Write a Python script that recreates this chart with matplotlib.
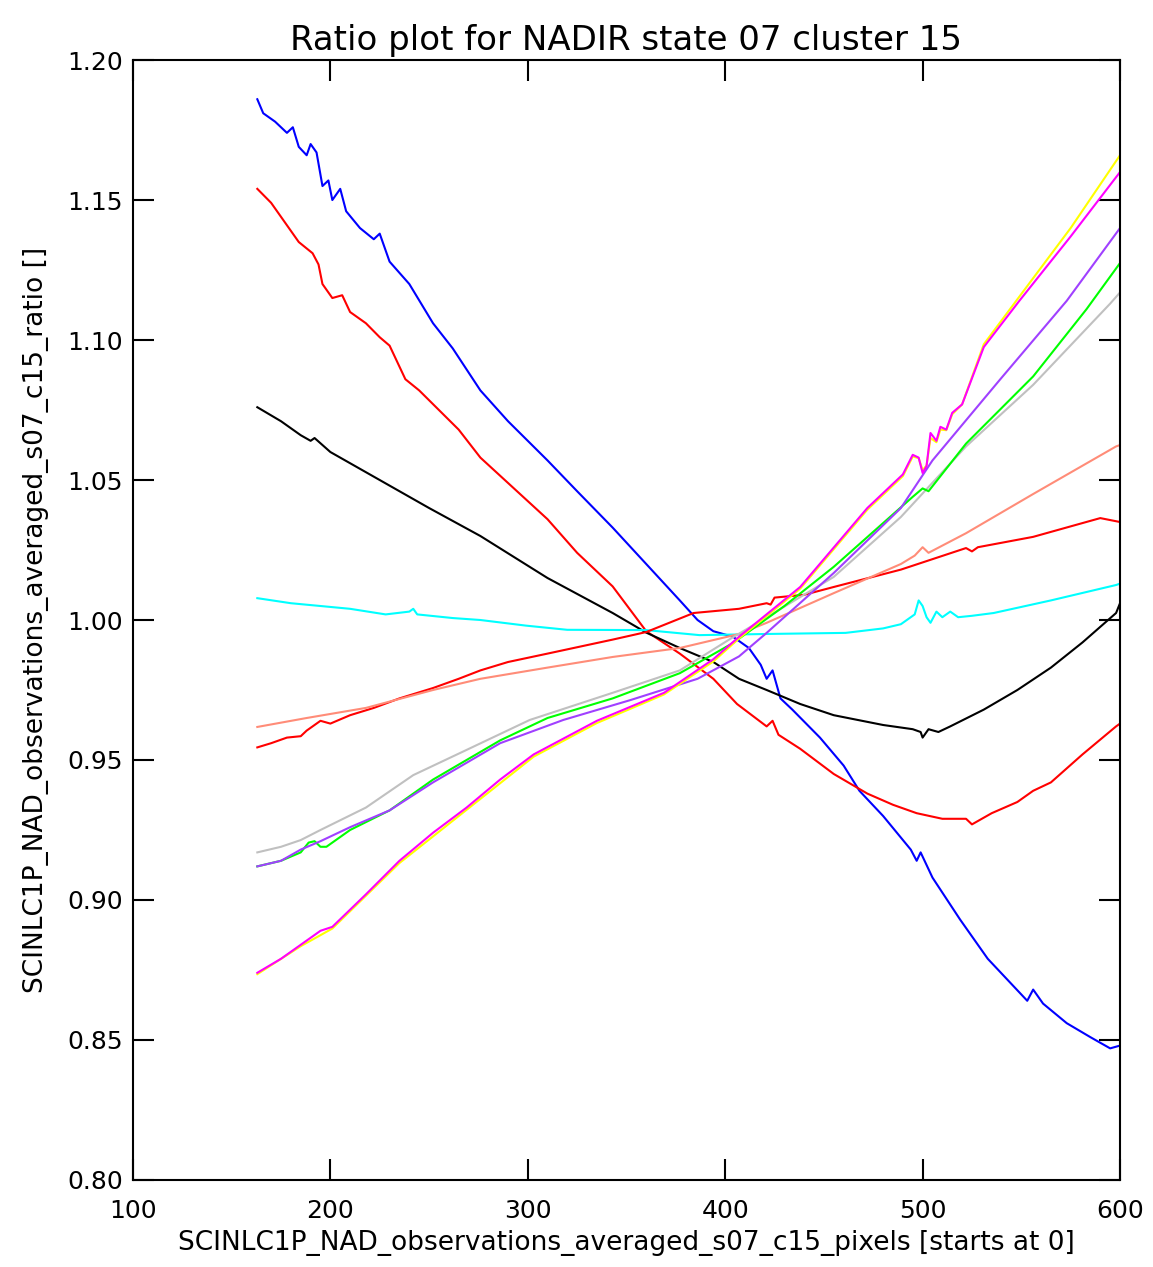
import matplotlib
matplotlib.use("Agg")
import matplotlib.pyplot as plt

# ratio curves (pixel index vs ratio)
blue_x = [163,166,172,178,181,184,188,190,193,196,199,201,205,208,215,222,225,230,240,252,262,276,290,310,325,343,360,377,386,394,404,412,418,421,424,428,434,448,460,468,480,494,497,499,505,519,533,549,553,556,561,573,585,595,600]
blue_y = [1.186,1.181,1.178,1.174,1.176,1.169,1.166,1.170,1.167,1.155,1.157,1.150,1.154,1.146,1.140,1.136,1.138,1.128,1.120,1.106,1.097,1.082,1.071,1.057,1.046,1.033,1.020,1.007,1.000,0.996,0.994,0.990,0.984,0.979,0.982,0.972,0.968,0.958,0.948,0.939,0.930,0.918,0.914,0.917,0.908,0.893,0.879,0.867,0.864,0.868,0.863,0.856,0.851,0.847,0.848]

red1_x = [163,170,177,184,191,194,196,201,206,210,218,225,230,238,245,255,265,276,293,310,325,343,360,377,394,406,421,424,427,438,455,472,485,497,510,522,525,535,548,556,565,581,598,600]
red1_y = [1.154,1.149,1.142,1.135,1.131,1.127,1.120,1.115,1.116,1.110,1.106,1.101,1.098,1.086,1.082,1.075,1.068,1.058,1.047,1.036,1.024,1.012,0.996,0.988,0.979,0.970,0.962,0.964,0.959,0.954,0.945,0.938,0.934,0.931,0.929,0.929,0.927,0.931,0.935,0.939,0.942,0.952,0.962,0.963]

black_x = [163,175,185,190,192,200,220,250,276,310,343,360,377,394,407,421,438,455,480,495,499,500,503,508,514,531,548,565,581,598,600]
black_y = [1.076,1.071,1.066,1.064,1.065,1.060,1.052,1.040,1.030,1.015,1.0025,0.9955,0.990,0.985,0.979,0.975,0.970,0.966,0.9625,0.961,0.960,0.958,0.961,0.960,0.962,0.968,0.975,0.983,0.992,1.0025,1.006]

cyan_x = [163,180,195,210,228,240,242,244,262,276,299,320,360,387,420,461,480,489,496,498,500,502,504,507,510,514,518,525,536,565,598,600]
cyan_y = [1.0078,1.006,1.005,1.004,1.002,1.003,1.004,1.002,1.0007,1.000,0.998,0.9965,0.9964,0.9946,0.995,0.9954,0.997,0.9985,1.002,1.007,1.005,1.001,0.999,1.003,1.001,1.003,1.001,1.0015,1.0025,1.007,1.0125,1.013]

red2_x = [163,170,178,185,188,191,195,200,210,222,235,252,265,276,290,310,343,360,384,407,421,423,425,440,455,489,522,525,528,556,590,600]
red2_y = [0.9545,0.956,0.958,0.9585,0.9605,0.962,0.964,0.963,0.966,0.9686,0.972,0.9757,0.979,0.982,0.985,0.988,0.993,0.9957,1.0025,1.004,1.006,1.0055,1.008,1.009,1.0118,1.018,1.0257,1.0245,1.026,1.0297,1.0364,1.035]

salmon_x = [163,188,218,252,276,310,343,377,407,421,455,489,496,500,503,522,556,598,600]
salmon_y = [0.9618,0.965,0.9686,0.975,0.979,0.983,0.9868,0.990,0.995,0.999,1.0096,1.020,1.023,1.026,1.024,1.031,1.045,1.062,1.0625]

gray_x = [163,175,185,195,218,242,269,301,343,377,402,421,455,489,522,556,595,600]
gray_y = [0.917,0.919,0.9214,0.925,0.933,0.9446,0.9536,0.9643,0.974,0.982,0.993,1.001,1.0154,1.0368,1.062,1.084,1.113,1.117]

green_x = [163,175,185,189,192,195,198,210,230,252,286,310,343,377,404,430,455,495,500,503,522,556,583,600]
green_y = [0.912,0.914,0.917,0.9205,0.921,0.919,0.919,0.925,0.932,0.943,0.957,0.965,0.972,0.981,0.9918,1.005,1.019,1.044,1.047,1.046,1.063,1.087,1.111,1.1275]

purple_x = [163,175,185,190,195,210,230,252,286,318,352,386,407,421,455,489,505,539,573,600]
purple_y = [0.912,0.914,0.918,0.9195,0.921,0.926,0.932,0.942,0.956,0.9643,0.9714,0.979,0.987,0.9954,1.0168,1.040,1.057,1.0857,1.114,1.140]

yellow_x = [163,185,201,235,269,303,335,369,394,407,438,472,490,495,498,500,502,504,507,509,512,515,520,531,549,575,600]
yellow_y = [0.8735,0.8835,0.8898,0.9132,0.9322,0.9512,0.9632,0.9734,0.9852,0.9934,1.0112,1.0394,1.0514,1.0584,1.0578,1.0535,1.0552,1.0650,1.0635,1.0680,1.0678,1.0735,1.0770,1.0985,1.1155,1.1400,1.166]

magenta_x = [163,175,185,195,201,218,235,252,269,286,303,335,369,394,407,438,472,490,495,498,500,502,504,507,509,512,515,520,531,549,575,600]
magenta_y = [0.874,0.879,0.884,0.889,0.8904,0.902,0.914,0.924,0.933,0.943,0.952,0.964,0.974,0.986,0.994,1.0118,1.040,1.052,1.059,1.058,1.0525,1.055,1.0668,1.064,1.069,1.068,1.074,1.077,1.0975,1.114,1.137,1.160]

x_ticks = [100, 200, 300, 400, 500, 600]
y_ticks = [0.80, 0.85, 0.90, 0.95, 1.00, 1.05, 1.10, 1.15, 1.20]

fig = plt.figure(figsize=(11.53, 12.67), dpi=100)
ax = fig.add_axes([0.1153, 0.0687, 0.8561, 0.8839])

lw = 1.5
ax.plot(blue_x, blue_y, color='#0000ff', lw=lw)
ax.plot(red1_x, red1_y, color='#ff0000', lw=lw)
ax.plot(black_x, black_y, color='#000000', lw=lw)
ax.plot(cyan_x, cyan_y, color='#00ffff', lw=lw)
ax.plot(red2_x, red2_y, color='#ff0000', lw=lw)
ax.plot(salmon_x, salmon_y, color='#ff8c78', lw=lw)
ax.plot(gray_x, gray_y, color='#c0c0c0', lw=lw)
ax.plot(green_x, green_y, color='#00ff00', lw=lw)
ax.plot(purple_x, purple_y, color='#a040ff', lw=lw)
ax.plot(yellow_x, yellow_y, color='#ffff00', lw=lw)
ax.plot(magenta_x, magenta_y, color='#ff00ff', lw=lw)

ax.set_xlim(100, 600)
ax.set_ylim(0.80, 1.20)
ax.set_xticks(x_ticks)
ax.set_yticks(y_ticks)
ax.set_xticklabels([str(t) for t in x_ticks])
ax.set_yticklabels(['%.2f' % t for t in y_ticks])
ax.tick_params(direction='in', length=15, width=1.5, top=True, right=True, labelsize=18)
ax.tick_params(axis='x', pad=14)
ax.tick_params(axis='y', pad=7)
for s in ax.spines.values():
    s.set_linewidth(1.5)

ax.set_title("Ratio plot for NADIR state 07 cluster 15", fontsize=24.5, pad=7)
ax.set_xlabel("SCINLC1P_NAD_observations_averaged_s07_c15_pixels [starts at 0]", fontsize=19, labelpad=5)
ax.set_ylabel("SCINLC1P_NAD_observations_averaged_s07_c15_ratio []", fontsize=19, labelpad=13)

fig.savefig("out.png", dpi=100)
